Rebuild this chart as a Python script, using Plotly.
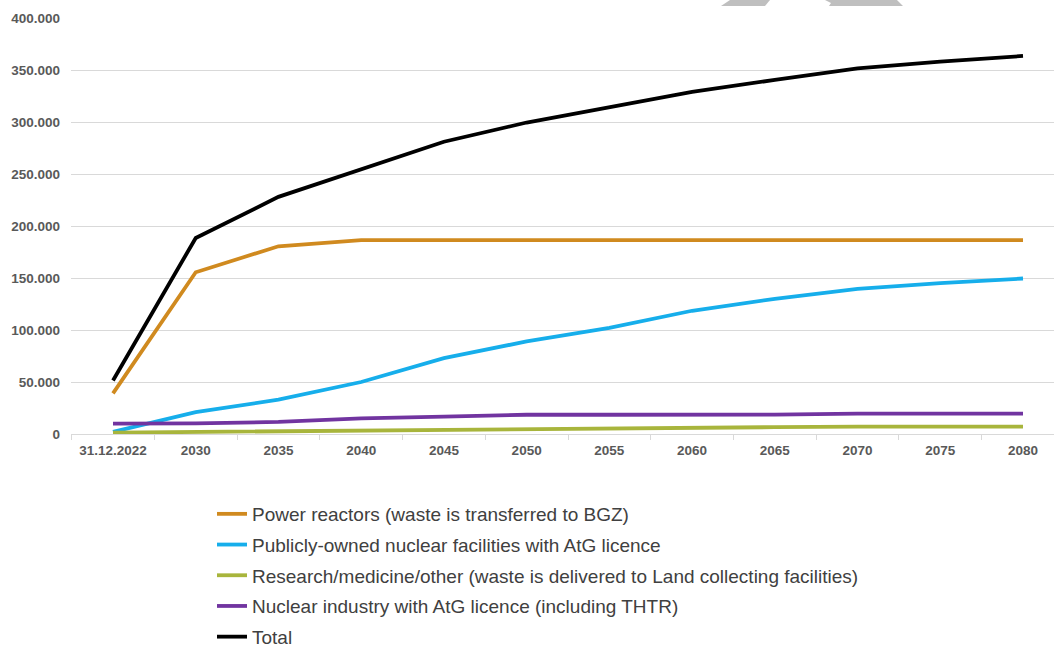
import plotly.graph_objects as go

# Categories (x axis)
periods = ["31.12.2022", "2030", "2035", "2040", "2045", "2050",
           "2055", "2060", "2065", "2070", "2075", "2080"]

# Waste volumes per source (m³)
power_reactors = [39000, 155500, 180500, 186500, 186500, 186500,
                  186500, 186500, 186500, 186500, 186500, 186500]
public_facilities = [2000, 21000, 33000, 50000, 73000, 89000,
                     102000, 118500, 130000, 139500, 145000, 149500]
research_medicine = [1300, 2000, 2500, 3500, 4000, 5200,
                     5400, 6000, 6600, 7000, 7000, 7100]
nuclear_industry = [10000, 10300, 11600, 15000, 16700, 18500,
                    18500, 18500, 18700, 19500, 19500, 19500]
total = [51400, 188500, 228000, 254700, 281000, 299500,
         314000, 329000, 340500, 351500, 358000, 363500]

series = [
    ("Power reactors (waste is transferred to BGZ)", power_reactors, "#D08A1F"),
    ("Publicly-owned nuclear facilities with AtG licence", public_facilities, "#16AEEB"),
    ("Research/medicine/other (waste is delivered to Land collecting facilities)", research_medicine, "#A8B53C"),
    ("Nuclear industry with AtG licence (including THTR)", nuclear_industry, "#7134A0"),
    ("Total", total, "#000000"),
]

W, H = 1054, 650
L, R, T, B = 71, 0, 18, 216
plot_w = W - L - R
plot_h = H - T - B

fig = go.Figure()
for i, (name, values, color) in enumerate(series):
    fig.add_trace(go.Scatter(
        x=periods, y=values, name=name, mode="lines",
        line=dict(color=color, width=3.8),
        legendgroup=f"g{i}",
    ))


def px_to_paper(pts):
    return [((x - L) / plot_w, (H - B - y) / plot_h) for x, y in pts]


def path_from(pts):
    p = px_to_paper(pts)
    return "M " + " L ".join(f"{x:.5f},{y:.5f}" for x, y in p) + " Z"


# Grey header marks along the top edge
header_marks = [
    [(730, 0), (770, 0), (765, 6), (721, 6)],
    [(825, 0), (897, 0), (903, 6), (829, 6), (831, 3)],
]
shapes = [dict(type="path", xref="paper", yref="paper", path=path_from(m),
               fillcolor="#BFBFBF", line=dict(width=0), layer="above")
          for m in header_marks]

# Category axis range so that points sit at fixed spacing
step = (1023 - 113) / 11
r0 = -(113 - L) / step
r1 = r0 + plot_w / step

tick_font = dict(family="Liberation Sans, Arial, sans-serif", size=13.5,
                 color="#595959", weight="bold")

fig.update_layout(
    width=W, height=H,
    margin=dict(l=L, r=R, t=T, b=B, pad=0, autoexpand=False),
    paper_bgcolor="white", plot_bgcolor="white",
    separators=",.",
    shapes=shapes,
    showlegend=True,
    legend=dict(
        x=(212 - L) / plot_w, y=(H - B - 495) / plot_h,
        xanchor="left", yanchor="top",
        font=dict(family="Liberation Sans, Arial, sans-serif", size=19, color="#404040"),
        traceorder="grouped", tracegroupgap=3,
        bgcolor="rgba(0,0,0,0)",
    ),
    xaxis=dict(
        type="category", range=[r0, r1],
        showgrid=False, showline=True, linecolor="#D9D9D9", linewidth=1,
        ticks="outside", tickson="boundaries", ticklen=5, tickcolor="#D9D9D9",
        tickfont=tick_font, tickangle=0, ticklabelstandoff=4,
        fixedrange=True,
    ),
    yaxis=dict(
        range=[0, 400000], tickvals=list(range(0, 400001, 50000)),
        tickformat=",d", tickfont=tick_font,
        showgrid=True, gridcolor="#D9D9D9", gridwidth=1,
        zeroline=False, showline=False, ticks="",
        ticklabelstandoff=10,
        fixedrange=True,
    ),
)

fig.write_html("out.html")
